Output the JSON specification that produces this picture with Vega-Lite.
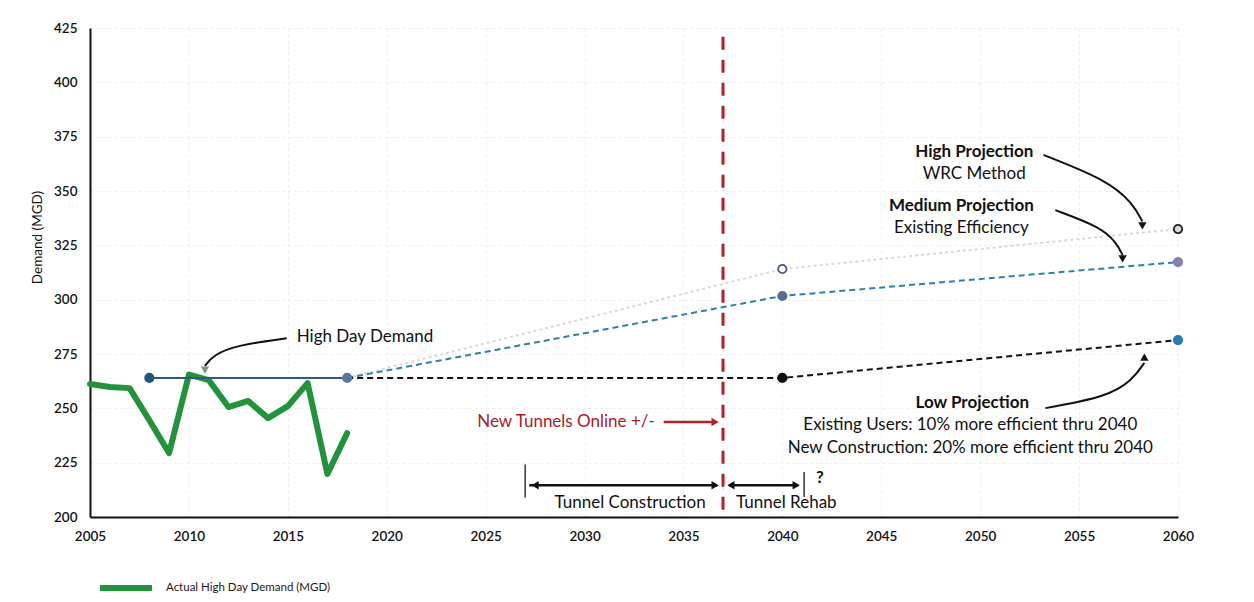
{
  "$schema": "https://vega.github.io/schema/vega-lite/v6.json",
  "width": 1088,
  "height": 489,
  "autosize": {"type": "none"},
  "padding": {"left": 90, "top": 28, "right": 76, "bottom": 85},
  "background": "white",
  "config": {
    "view": {"stroke": null},
    "font": "Lato",
    "text": {"font": "Lato"}
  },
  "resolve": {"scale": {"fill": "independent", "stroke": "independent", "shape": "independent"}},
  "datasets": {
    "actual": [
      {"year": 2005, "v": 261.2, "s": "Actual High Day Demand (MGD)"},
      {"year": 2006, "v": 259.8, "s": "Actual High Day Demand (MGD)"},
      {"year": 2007, "v": 259.3, "s": "Actual High Day Demand (MGD)"},
      {"year": 2008, "v": 244.5, "s": "Actual High Day Demand (MGD)"},
      {"year": 2009, "v": 229.4, "s": "Actual High Day Demand (MGD)"},
      {"year": 2010, "v": 265.5, "s": "Actual High Day Demand (MGD)"},
      {"year": 2011, "v": 263.0, "s": "Actual High Day Demand (MGD)"},
      {"year": 2012, "v": 250.6, "s": "Actual High Day Demand (MGD)"},
      {"year": 2013, "v": 253.4, "s": "Actual High Day Demand (MGD)"},
      {"year": 2014, "v": 245.5, "s": "Actual High Day Demand (MGD)"},
      {"year": 2015, "v": 251.0, "s": "Actual High Day Demand (MGD)"},
      {"year": 2016, "v": 261.6, "s": "Actual High Day Demand (MGD)"},
      {"year": 2017, "v": 219.8, "s": "Actual High Day Demand (MGD)"},
      {"year": 2018, "v": 238.6, "s": "Actual High Day Demand (MGD)"}
    ],
    "highday": [
      {"year": 2008, "v": 264},
      {"year": 2018, "v": 264}
    ],
    "high": [
      {"year": 2018, "v": 264},
      {"year": 2040, "v": 314.1},
      {"year": 2060, "v": 332.5}
    ],
    "medium": [
      {"year": 2018, "v": 264},
      {"year": 2040, "v": 301.7},
      {"year": 2060, "v": 317.3}
    ],
    "low": [
      {"year": 2018, "v": 264},
      {"year": 2040, "v": 264},
      {"year": 2060, "v": 281.4}
    ],
    "points": [
      {"year": 2008, "v": 264, "id": "hd2008"},
      {"year": 2018, "v": 264, "id": "hd2018"},
      {"year": 2040, "v": 264, "id": "low2040"},
      {"year": 2040, "v": 301.7, "id": "med2040"},
      {"year": 2040, "v": 314.1, "id": "high2040"},
      {"year": 2060, "v": 332.5, "id": "high2060"},
      {"year": 2060, "v": 317.3, "id": "med2060"},
      {"year": 2060, "v": 281.4, "id": "low2060"}
    ],
    "online": [{"year": 2037, "v": 421, "v2": 200}],
    "spans": [
      {"year": 2027.2, "year2": 2036.7, "v": 214.6},
      {"year": 2037.3, "year2": 2040.8, "v": 214.6},
      {"year": 2034.0, "year2": 2036.6, "v": 243.7}
    ],
    "endticks": [
      {"year": 2027, "v": 224.2, "v2": 209.0},
      {"year": 2041.1, "v": 220.7, "v2": 209.2}
    ],
    "curves": [
      {"arrow": "hd", "ord": 1, "year": 2014.94, "v": 282.2},
      {"arrow": "hd", "ord": 2, "year": 2012.42, "v": 279.1},
      {"arrow": "hd", "ord": 3, "year": 2011.23, "v": 274.5},
      {"arrow": "hd", "ord": 4, "year": 2010.81, "v": 269.5},
      {"arrow": "hp", "ord": 1, "year": 2053.2, "v": 366.6},
      {"arrow": "hp", "ord": 2, "year": 2056.4, "v": 355.1},
      {"arrow": "hp", "ord": 3, "year": 2057.7, "v": 344.5},
      {"arrow": "hp", "ord": 4, "year": 2058.2, "v": 336.0},
      {"arrow": "mp", "ord": 1, "year": 2053.8, "v": 341.2},
      {"arrow": "mp", "ord": 2, "year": 2056.1, "v": 333.4},
      {"arrow": "mp", "ord": 3, "year": 2056.9, "v": 326.1},
      {"arrow": "mp", "ord": 4, "year": 2057.2, "v": 320.5},
      {"arrow": "lp", "ord": 1, "year": 2053.3, "v": 250.1},
      {"arrow": "lp", "ord": 2, "year": 2056.4, "v": 255.2},
      {"arrow": "lp", "ord": 3, "year": 2057.7, "v": 263.0},
      {"arrow": "lp", "ord": 4, "year": 2058.3, "v": 271.0}
    ],
    "heads": [
      {"year": 2010.81, "v": 267.6, "dir": "down", "col": "hd"},
      {"year": 2058.2, "v": 334.0, "dir": "down", "col": "k"},
      {"year": 2057.2, "v": 318.8, "dir": "down", "col": "k"},
      {"year": 2058.3, "v": 273.6, "dir": "up", "col": "k"},
      {"year": 2027.5, "v": 214.6, "dir": "left", "col": "k"},
      {"year": 2036.6, "v": 214.6, "dir": "right", "col": "k"},
      {"year": 2037.4, "v": 214.6, "dir": "left", "col": "k"},
      {"year": 2040.7, "v": 214.6, "dir": "right", "col": "k"},
      {"year": 2036.6, "v": 243.7, "dir": "right", "col": "red"}
    ],
    "boldtext": [
      {"year": 2049.7, "v": 368.0, "label": "High Projection"},
      {"year": 2049.05, "v": 343.0, "label": "Medium Projection"},
      {"year": 2049.6, "v": 252.4, "label": "Low Projection"},
      {"year": 2041.9, "v": 218.0, "label": "?"}
    ],
    "normaltext": [
      {"year": 2049.7, "v": 357.8, "label": "WRC Method"},
      {"year": 2049.05, "v": 333.0, "label": "Existing Efficiency"},
      {"year": 2049.5, "v": 242.3, "label": "Existing Users: 10% more efficient thru 2040"},
      {"year": 2049.5, "v": 231.7, "label": "New Construction: 20% more efficient thru 2040"},
      {"year": 2018.9, "v": 282.8, "label": "High Day Demand"},
      {"year": 2032.3, "v": 206.6, "label": "Tunnel Construction"},
      {"year": 2040.2, "v": 206.6, "label": "Tunnel Rehab"}
    ],
    "redtext": [
      {"year": 2033.55, "v": 243.7, "label": "New Tunnels Online +/-"}
    ]
  },
  "encoding": {
    "x": {
      "field": "year",
      "type": "quantitative",
      "scale": {"domain": [2005, 2060], "nice": false, "zero": false},
      "axis": {
        "title": null,
        "values": [2005, 2010, 2015, 2020, 2025, 2030, 2035, 2040, 2045, 2050, 2055, 2060],
        "format": "d",
        "labelFont": "Lato",
        "labelFontSize": 13.5,
        "labelFontWeight": 600,
        "labelColor": "#111111",
        "labelPadding": 12,
        "labelFlush": false,
        "labelOverlap": false,
        "ticks": false,
        "domainColor": "#111111",
        "domainWidth": 2,
        "grid": true,
        "gridColor": "#eeeeee",
        "gridDash": [3, 3]
      }
    },
    "y": {
      "field": "v",
      "type": "quantitative",
      "scale": {"domain": [200, 425], "nice": false, "zero": false},
      "axis": {
        "title": "Demand (MGD)",
        "titleFont": "Lato",
        "titleFontSize": 13.5,
        "titleFontWeight": "normal",
        "titleColor": "#111111",
        "titlePadding": 9,
        "titleY": 209,
        "values": [200, 225, 250, 275, 300, 325, 350, 375, 400, 425],
        "labelFont": "Lato",
        "labelFontSize": 13.5,
        "labelFontWeight": 600,
        "labelColor": "#111111",
        "labelPadding": 13,
        "labelFlush": false,
        "labelOverlap": false,
        "ticks": false,
        "domainColor": "#111111",
        "domainWidth": 2,
        "grid": true,
        "gridColor": "#eeeeee",
        "gridDash": [3, 3]
      }
    }
  },
  "layer": [
    {
      "data": {"name": "high"},
      "mark": {"type": "line", "color": "#d9d9d9", "strokeWidth": 2, "strokeDash": [3, 3]}
    },
    {
      "data": {"name": "medium"},
      "mark": {"type": "line", "color": "#2f80ab", "strokeWidth": 2, "strokeDash": [6, 4]}
    },
    {
      "data": {"name": "low"},
      "mark": {"type": "line", "color": "#111111", "strokeWidth": 2, "strokeDash": [6, 4]}
    },
    {
      "data": {"name": "actual"},
      "mark": {"type": "line", "strokeWidth": 6, "strokeCap": "round", "strokeJoin": "round"},
      "encoding": {
        "color": {
          "field": "s",
          "type": "nominal",
          "scale": {"range": ["#21933a"]},
          "legend": {
            "title": null,
            "orient": "none",
            "legendX": 7,
            "legendY": 531,
            "symbolType": "stroke",
            "symbolStrokeWidth": 6,
            "symbolSize": 2700,
            "labelFont": "Lato",
            "labelFontSize": 11.5,
            "labelColor": "#1a1a1a",
            "labelOffset": 11,
            "labelLimit": 400,
            "padding": 0
          }
        }
      }
    },
    {
      "data": {"name": "highday"},
      "mark": {"type": "line", "color": "#2b5d78", "strokeWidth": 2}
    },
    {
      "data": {"name": "online"},
      "mark": {"type": "rule", "color": "#b3202b", "strokeWidth": 3, "strokeDash": [13, 10]},
      "encoding": {"y2": {"field": "v2"}}
    },
    {
      "data": {"name": "spans"},
      "mark": {"type": "rule", "strokeWidth": 2.5},
      "encoding": {
        "x2": {"field": "year2"},
        "color": {
          "condition": {"test": "datum.v > 240", "value": "#b3202b"},
          "value": "#111111"
        }
      }
    },
    {
      "data": {"name": "endticks"},
      "mark": {"type": "rule", "strokeWidth": 1.5, "color": "#333333"},
      "encoding": {"y2": {"field": "v2"}}
    },
    {
      "data": {"name": "curves"},
      "mark": {"type": "line", "interpolate": "basis", "strokeWidth": 2, "color": "#111111"},
      "encoding": {
        "detail": {"field": "arrow", "type": "nominal"},
        "order": {"field": "ord", "type": "quantitative"}
      }
    },
    {
      "data": {"name": "heads"},
      "mark": {"type": "point", "filled": true, "size": 70, "opacity": 1},
      "encoding": {
        "shape": {
          "field": "dir",
          "type": "nominal",
          "scale": {"domain": ["down", "up", "left", "right"], "range": ["triangle-down", "triangle-up", "triangle-left", "triangle-right"]},
          "legend": null
        },
        "fill": {
          "field": "col",
          "type": "nominal",
          "scale": {"domain": ["hd", "k", "red"], "range": ["#7a9a78", "#111111", "#b3202b"]},
          "legend": null
        }
      }
    },
    {
      "data": {"name": "points"},
      "mark": {"type": "point", "filled": true, "size": 70, "opacity": 1, "strokeWidth": 1.8},
      "encoding": {
        "fill": {
          "field": "id",
          "type": "nominal",
          "scale": {
            "domain": ["hd2008", "hd2018", "low2040", "med2040", "high2040", "high2060", "med2060", "low2060"],
            "range": ["#1e5a78", "#587aa0", "#111111", "#5b6b98", "#ffffff", "#d8d8d8", "#8a7fb0", "#2a7ab5"]
          },
          "legend": null
        },
        "stroke": {
          "field": "id",
          "type": "nominal",
          "scale": {
            "domain": ["hd2008", "hd2018", "low2040", "med2040", "high2040", "high2060", "med2060", "low2060"],
            "range": ["#1e5a78", "#587aa0", "#111111", "#5b6b98", "#4a5890", "#222222", "#8a7fb0", "#2a7ab5"]
          },
          "legend": null
        }
      }
    },
    {
      "data": {"name": "boldtext"},
      "mark": {"type": "text", "font": "Lato", "fontSize": 17, "fontWeight": "bold", "color": "#111111", "align": "center", "baseline": "middle"},
      "encoding": {"text": {"field": "label"}}
    },
    {
      "data": {"name": "normaltext"},
      "mark": {"type": "text", "font": "Lato", "fontSize": 17, "color": "#111111", "align": "center", "baseline": "middle"},
      "encoding": {"text": {"field": "label"}}
    },
    {
      "data": {"name": "redtext"},
      "mark": {"type": "text", "font": "Lato", "fontSize": 17, "color": "#a8202c", "align": "right", "baseline": "middle"},
      "encoding": {"text": {"field": "label"}}
    }
  ]
}
